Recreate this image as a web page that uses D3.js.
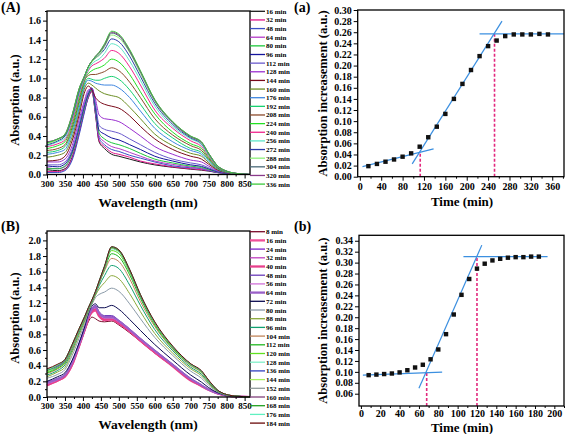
<!DOCTYPE html>
<html><head><meta charset="utf-8">
<script src="https://cdn.jsdelivr.net/npm/d3@7"></script>
<style>
body{margin:0;background:#fff}
svg{display:block}
text{font-family:"Liberation Serif","Times New Roman",serif;font-weight:bold;fill:#000}
</style>
</head><body>
<svg id="chart" width="567" height="434"></svg>
<script>
// ---------- DATA ----------
const wavelengths = [300,330,350,370,390,405,415,425,435,445,460,480,500,530,560,600,650,700,730,750,775,800,830,865];

const timesA = [16,32,48,64,80,96,112,128,144,160,176,192,208,224,240,256,272,288,304,320,336];
const colorsA = ['#1a1a1a','#e0158c','#3a4fc4','#b43cc8','#1ec83c','#14149c','#6a5acd','#9b30d0','#7a0a1a','#6b8e23','#3f86e0','#18d070','#8b4a2b','#22e022','#f0248c','#5ee6c8','#2a3aa8','#8ef07a','#4a6a78','#8a3a8a','#3cc83c'];
const spectraA = [
 [0.05,0.04,0.06,0.18,0.45,0.68,0.80,0.87,0.62,0.34,0.27,0.21,0.19,0.16,0.13,0.10,0.075,0.055,0.045,0.035,0.02,0.01,0.003,0],
 [0.03,0.03,0.05,0.17,0.44,0.67,0.80,0.86,0.63,0.35,0.29,0.23,0.21,0.18,0.14,0.11,0.08,0.06,0.05,0.04,0.02,0.01,0.003,0],
 [0.02,0.02,0.04,0.15,0.42,0.66,0.81,0.88,0.64,0.38,0.31,0.26,0.24,0.20,0.17,0.13,0.09,0.07,0.06,0.04,0.02,0.01,0.003,0],
 [0.07,0.06,0.08,0.21,0.48,0.70,0.82,0.89,0.66,0.40,0.34,0.29,0.27,0.23,0.19,0.14,0.105,0.077,0.063,0.047,0.024,0.012,0.003,0],
 [0.06,0.06,0.09,0.22,0.49,0.71,0.83,0.88,0.68,0.43,0.37,0.33,0.31,0.27,0.22,0.16,0.12,0.087,0.073,0.052,0.027,0.012,0.004,0],
 [0.09,0.08,0.11,0.24,0.51,0.73,0.84,0.90,0.70,0.46,0.42,0.38,0.36,0.31,0.26,0.19,0.14,0.10,0.084,0.06,0.029,0.013,0.004,0],
 [0.10,0.10,0.13,0.26,0.53,0.75,0.86,0.90,0.73,0.51,0.47,0.45,0.43,0.37,0.31,0.23,0.16,0.12,0.10,0.07,0.033,0.015,0.004,0],
 [0.13,0.13,0.16,0.30,0.58,0.78,0.88,0.89,0.78,0.62,0.58,0.57,0.55,0.48,0.40,0.29,0.21,0.15,0.13,0.087,0.04,0.017,0.005,0],
 [0.14,0.15,0.19,0.35,0.63,0.86,0.92,0.88,0.80,0.76,0.73,0.71,0.69,0.61,0.50,0.37,0.26,0.19,0.16,0.107,0.047,0.02,0.006,0],
 [0.18,0.20,0.23,0.39,0.67,0.90,0.95,0.93,0.90,0.87,0.84,0.82,0.80,0.70,0.58,0.42,0.30,0.22,0.19,0.123,0.053,0.022,0.006,0],
 [0.21,0.23,0.26,0.43,0.70,0.93,0.98,0.97,0.95,0.94,0.93,0.93,0.90,0.80,0.66,0.48,0.34,0.25,0.21,0.139,0.059,0.024,0.007,0],
 [0.23,0.25,0.29,0.46,0.74,0.95,1.00,0.99,0.98,0.98,1.00,1.02,0.99,0.88,0.73,0.53,0.38,0.27,0.23,0.152,0.064,0.026,0.007,0],
 [0.25,0.27,0.31,0.49,0.77,0.98,1.03,1.04,1.04,1.05,1.07,1.11,1.08,0.96,0.80,0.58,0.41,0.30,0.25,0.165,0.069,0.028,0.008,0],
 [0.27,0.30,0.34,0.52,0.80,0.99,1.05,1.08,1.10,1.11,1.14,1.20,1.17,1.04,0.86,0.63,0.44,0.32,0.27,0.178,0.074,0.029,0.008,0],
 [0.29,0.32,0.36,0.55,0.83,1.00,1.08,1.13,1.15,1.17,1.21,1.29,1.26,1.12,0.93,0.67,0.48,0.35,0.29,0.19,0.079,0.031,0.009,0],
 [0.30,0.34,0.38,0.58,0.85,1.01,1.09,1.15,1.18,1.20,1.26,1.36,1.33,1.18,0.98,0.71,0.50,0.37,0.31,0.20,0.083,0.032,0.009,0],
 [0.31,0.35,0.40,0.59,0.87,1.03,1.12,1.18,1.21,1.24,1.30,1.41,1.38,1.23,1.02,0.74,0.52,0.38,0.32,0.21,0.086,0.033,0.01,0],
 [0.32,0.36,0.41,0.61,0.89,1.02,1.11,1.17,1.21,1.24,1.33,1.45,1.42,1.27,1.05,0.76,0.535,0.39,0.33,0.214,0.088,0.034,0.01,0],
 [0.33,0.37,0.41,0.61,0.89,1.02,1.12,1.18,1.22,1.26,1.34,1.47,1.44,1.28,1.07,0.77,0.54,0.39,0.335,0.217,0.089,0.035,0.01,0],
 [0.34,0.37,0.42,0.62,0.90,1.03,1.12,1.18,1.23,1.27,1.35,1.48,1.45,1.29,1.07,0.775,0.546,0.397,0.338,0.219,0.09,0.035,0.01,0],
 [0.33,0.37,0.42,0.62,0.90,1.03,1.12,1.18,1.23,1.27,1.36,1.49,1.46,1.30,1.08,0.78,0.55,0.40,0.34,0.22,0.09,0.035,0.01,0]
];

const timesB = [8,16,24,32,40,48,56,64,72,80,88,96,104,112,120,128,136,144,152,160,168,176,184];
const colorsB = ['#7a0a2a','#f0509a','#7a20c8','#c040c0','#e8408c','#6a3ab8','#d070d8','#9a60c8','#0a0a50','#8a9aa8','#8aa83a','#10a070','#c0845a','#20b820','#60e020','#80f0c8','#3040c0','#a8f060','#909a9a','#80407a','#20a020','#60f0c0','#6a0a0a'];
const widthsB = [1,2,1,1,2,1,1,2,1,1,1,1,1,1,1,1,1,1,1,1,1,1,1];
const spectraB = [
 [0.17,0.22,0.27,0.42,0.65,0.84,0.96,1.02,1.00,0.97,0.96,0.97,0.92,0.82,0.71,0.56,0.39,0.21,0.14,0.09,0.045,0.02,0.005,0],
 [0.15,0.21,0.26,0.41,0.66,0.86,1.00,1.08,1.10,1.03,0.98,0.99,0.94,0.84,0.72,0.57,0.40,0.22,0.14,0.09,0.045,0.02,0.005,0],
 [0.18,0.23,0.28,0.44,0.68,0.88,1.03,1.13,1.16,1.07,1.03,1.03,0.97,0.86,0.74,0.59,0.41,0.23,0.15,0.095,0.047,0.02,0.005,0],
 [0.16,0.22,0.27,0.42,0.67,0.87,1.01,1.10,1.13,1.05,1.00,1.00,0.95,0.85,0.73,0.58,0.40,0.22,0.145,0.092,0.046,0.02,0.005,0],
 [0.15,0.21,0.26,0.41,0.66,0.86,1.00,1.09,1.12,1.04,0.99,0.99,0.94,0.84,0.72,0.57,0.39,0.21,0.14,0.09,0.045,0.02,0.005,0],
 [0.19,0.24,0.29,0.45,0.69,0.89,1.04,1.14,1.17,1.09,1.04,1.04,0.98,0.87,0.75,0.60,0.42,0.24,0.155,0.097,0.048,0.02,0.005,0],
 [0.17,0.22,0.28,0.43,0.67,0.88,1.02,1.11,1.14,1.06,1.01,1.01,0.96,0.85,0.73,0.58,0.41,0.23,0.15,0.093,0.046,0.02,0.005,0],
 [0.18,0.23,0.28,0.44,0.68,0.88,1.03,1.12,1.15,1.07,1.02,1.02,0.97,0.86,0.74,0.59,0.41,0.23,0.15,0.095,0.047,0.02,0.005,0],
 [0.20,0.26,0.31,0.47,0.70,0.90,1.06,1.16,1.19,1.14,1.14,1.17,1.12,0.99,0.85,0.67,0.47,0.28,0.19,0.12,0.055,0.022,0.006,0],
 [0.24,0.29,0.35,0.53,0.76,0.94,1.08,1.18,1.27,1.31,1.34,1.39,1.35,1.19,1.00,0.76,0.53,0.33,0.24,0.15,0.065,0.025,0.007,0],
 [0.26,0.32,0.38,0.57,0.80,0.97,1.10,1.20,1.30,1.38,1.46,1.55,1.51,1.32,1.09,0.81,0.56,0.36,0.27,0.17,0.07,0.027,0.008,0],
 [0.28,0.34,0.41,0.60,0.83,0.99,1.11,1.21,1.32,1.42,1.55,1.68,1.64,1.43,1.17,0.86,0.59,0.38,0.29,0.185,0.075,0.028,0.008,0],
 [0.30,0.36,0.43,0.62,0.85,1.00,1.12,1.22,1.33,1.45,1.61,1.77,1.73,1.51,1.22,0.90,0.61,0.40,0.31,0.195,0.08,0.029,0.009,0],
 [0.31,0.37,0.44,0.64,0.86,1.01,1.12,1.22,1.33,1.46,1.63,1.83,1.79,1.56,1.26,0.92,0.62,0.41,0.32,0.20,0.082,0.03,0.009,0],
 [0.32,0.38,0.45,0.65,0.86,1.01,1.13,1.23,1.34,1.46,1.65,1.87,1.83,1.59,1.28,0.93,0.63,0.41,0.32,0.205,0.083,0.03,0.01,0],
 [0.33,0.39,0.46,0.65,0.87,1.02,1.13,1.23,1.34,1.47,1.65,1.89,1.85,1.60,1.29,0.94,0.635,0.415,0.325,0.207,0.084,0.03,0.01,0],
 [0.34,0.39,0.46,0.66,0.87,1.02,1.13,1.23,1.34,1.47,1.66,1.90,1.86,1.61,1.29,0.945,0.637,0.417,0.327,0.208,0.084,0.03,0.01,0],
 [0.33,0.40,0.47,0.66,0.87,1.02,1.13,1.23,1.34,1.47,1.66,1.90,1.86,1.61,1.30,0.947,0.638,0.418,0.328,0.209,0.085,0.03,0.01,0],
 [0.34,0.40,0.47,0.66,0.87,1.02,1.13,1.23,1.34,1.47,1.66,1.91,1.87,1.62,1.30,0.948,0.639,0.419,0.329,0.209,0.085,0.03,0.01,0],
 [0.35,0.40,0.47,0.66,0.87,1.02,1.13,1.23,1.34,1.47,1.66,1.91,1.87,1.62,1.30,0.95,0.64,0.42,0.33,0.21,0.085,0.03,0.01,0],
 [0.34,0.41,0.48,0.67,0.88,1.03,1.14,1.24,1.35,1.48,1.67,1.91,1.87,1.62,1.30,0.95,0.64,0.42,0.33,0.21,0.085,0.03,0.01,0],
 [0.35,0.41,0.48,0.67,0.88,1.03,1.14,1.24,1.35,1.48,1.67,1.92,1.88,1.63,1.31,0.955,0.645,0.42,0.33,0.21,0.085,0.03,0.01,0],
 [0.36,0.42,0.48,0.67,0.88,1.03,1.14,1.24,1.35,1.48,1.67,1.92,1.88,1.63,1.31,0.96,0.65,0.425,0.335,0.215,0.087,0.031,0.01,0]
];

const kinTimeA = [16,32,48,64,80,96,112,128,144,160,176,192,208,224,240,256,272,288,304,320,336,352];
const kinValA  = [0.019,0.023,0.027,0.031,0.036,0.042,0.054,0.071,0.090,0.113,0.140,0.167,0.192,0.217,0.235,0.245,0.253,0.256,0.256,0.256,0.257,0.256];
const fitLinesA = [[[5,0.018],[138,0.050]], [[98,0.023],[266,0.280]], [[224,0.257],[382,0.257]]];
const dropLinesA = [[[113,0],[113,0.045]], [[252,0],[252,0.257]]];

const kinTimeB = [8,16,24,32,40,48,56,64,72,80,88,96,104,112,120,128,136,144,152,160,168,176,184];
const kinValB  = [0.094,0.095,0.096,0.097,0.099,0.103,0.108,0.113,0.123,0.141,0.169,0.205,0.241,0.270,0.289,0.298,0.304,0.307,0.309,0.310,0.310,0.311,0.311];
const fitLinesB = [[[2,0.094],[84,0.0995]], [[60,0.070],[125,0.332]], [[106,0.311],[193,0.311]]];
const dropLinesB = [[[68,0.0375],[68,0.098]], [[120,0.0375],[120,0.311]]];

// ---------- DRAWING ----------
const svg = d3.select('#chart');

function axes(g, x, y, o) {
  const [yb, yt] = y.range();
  const [xl, xr] = x.range();
  const ax = (gen) => g.append('g').call(gen).call(s => s.select('.domain').remove())
     .attr('font-family', '"Liberation Serif","Times New Roman",serif').attr('font-weight','bold');
  ax(d3.axisBottom(x).tickValues(o.xMinor).tickSize(2).tickFormat('')).attr('transform', `translate(0,${yb})`);
  ax(d3.axisBottom(x).tickValues(o.xMajor).tickSize(o.xTick || 4).tickPadding(o.xPad || 2).tickFormat(o.xFmt))
     .attr('transform', `translate(0,${yb})`).attr('font-size', o.xFs);
  ax(d3.axisLeft(y).tickValues(o.yMinor).tickSize(2).tickFormat('')).attr('transform', `translate(${xl},0)`);
  ax(d3.axisLeft(y).tickValues(o.yMajor).tickSize(4).tickPadding(2).tickFormat(o.yFmt))
     .attr('transform', `translate(${xl},0)`).attr('font-size', o.yFs);
  g.selectAll('.tick line').attr('stroke', '#000').attr('stroke-width', 1);
  g.selectAll('.tick text').attr('fill', '#000');
  g.append('rect').attr('x', xl).attr('y', yt).attr('width', xr - xl).attr('height', yb - yt)
    .attr('fill', 'none').attr('stroke', '#000').attr('stroke-width', 1.3);
}

function spectraPanel(o) {
  const g = svg.append('g');
  const x = d3.scaleLinear().domain([300, 865]).range([47, 250]);
  const y = d3.scaleLinear().domain([0, o.ymax]).range([o.bottom, o.top]);
  const line = d3.line().x((d, i) => x(wavelengths[i])).y(d => y(d)).curve(d3.curveMonotoneX);
  o.data.forEach((s, i) => {
    g.append('path').attr('d', line(s)).attr('fill', 'none')
      .attr('stroke', o.colors[i]).attr('stroke-width', o.widths ? o.widths[i] : 1);
  });
  axes(g, x, y, {
    xMajor: d3.range(300, 851, 50), xMinor: d3.range(325, 866, 50), xFmt: d3.format('d'), xFs: 9,
    yMajor: o.yMajor, yMinor: o.yMinor, yFmt: d3.format('.1f'), yFs: 10
  });
  // legend
  o.times.forEach((t, i) => {
    const ly = o.legTop + i * o.legStep;
    g.append('line').attr('x1', 250).attr('x2', 265).attr('y1', ly).attr('y2', ly)
      .attr('stroke', o.colors[i]).attr('stroke-width', o.widths ? o.widths[i] + 0.3 : 1.3);
    g.append('text').attr('x', 266).attr('y', ly + 2.5).attr('font-size', 7).text(`${t} min`);
  });
  g.append('text').attr('x', 148).attr('y', o.bottom + 32).attr('text-anchor', 'middle')
    .attr('font-size', 13.5).text('Wavelength (nm)');
  g.append('text').attr('transform', `translate(19,${o.ylabY}) rotate(-90)`).attr('text-anchor', 'middle')
    .attr('font-size', 12.5).text('Absorption (a.u.)');
  g.append('text').attr('x', 1).attr('y', o.labY).attr('font-size', 14).text(o.label);
}

function kineticPanel(o) {
  const g = svg.append('g');
  const x = d3.scaleLinear().domain(o.xdom).range([o.left, 564]);
  const y = d3.scaleLinear().domain(o.ydom).range([o.bottom, o.top]);
  const lg = d3.line().x(d => x(d[0])).y(d => y(d[1]));
  o.drops.forEach(d => g.append('path').attr('d', lg(d)).attr('stroke', '#e2287e')
    .attr('stroke-width', 1.6).attr('stroke-dasharray', '3,2').attr('fill', 'none'));
  o.fits.forEach(d => g.append('path').attr('d', lg(d)).attr('stroke', '#3b8fe0')
    .attr('stroke-width', 1.2).attr('fill', 'none'));
  g.selectAll('rect.pt').data(o.t).join('rect').attr('class', 'pt')
    .attr('x', (d) => x(d) - 2.2).attr('y', (d, i) => y(o.v[i]) - 2.2)
    .attr('width', 4.4).attr('height', 4.4).attr('fill', '#111');
  axes(g, x, y, {
    xMajor: o.xMajor, xMinor: o.xMinor, xFmt: d3.format('d'), xFs: 10, xTick: o.xTick, xPad: o.xPad,
    yMajor: o.yMajor, yMinor: [], yFmt: d3.format('.2f'), yFs: 10
  });
  g.append('text').attr('x', 462).attr('y', o.timeY).attr('text-anchor', 'middle')
    .attr('font-size', 13).text('Time (min)');
  g.append('text').attr('transform', `translate(327,${(o.top + o.bottom) / 2}) rotate(-90)`).attr('text-anchor', 'middle')
    .attr('font-size', 12.6).text('Absorption increasement (a.u.)');
  g.append('text').attr('x', 294).attr('y', o.labY).attr('font-size', 14).text(o.label);
}

spectraPanel({data: spectraA, colors: colorsA, times: timesA, ymax: 1.7, bottom: 174.5, top: 11,
  yMajor: d3.range(0, 1.61, 0.2), yMinor: d3.range(0.1, 1.71, 0.2),
  legTop: 11.3, legStep: 8.64, ylabY: 100, labY: 12, label: '(A)'});
spectraPanel({data: spectraB, colors: colorsB, widths: widthsB, times: timesB, ymax: 2.12, bottom: 397, top: 231,
  yMajor: d3.range(0, 2.01, 0.2), yMinor: d3.range(0.1, 2.11, 0.2),
  legTop: 231.7, legStep: 8.7, ylabY: 318, labY: 231, label: '(B)'});

kineticPanel({t: kinTimeA, v: kinValA, fits: fitLinesA, drops: dropLinesA,
  xdom: [-4, 382], ydom: [0, 0.30], left: 357.7, bottom: 176.7, top: 10,
  xMajor: d3.range(0, 361, 40), xMinor: d3.range(20, 381, 40),
  yMajor: d3.range(0, 0.301, 0.02), labY: 12, label: '(a)', timeY: 206});
kineticPanel({t: kinTimeB, v: kinValB, fits: fitLinesB, drops: dropLinesB,
  xdom: [-2, 210], ydom: [0.0375, 0.35], left: 359, bottom: 406, top: 235.3,
  xMajor: d3.range(0, 201, 20), xMinor: d3.range(10, 211, 20), xTick: 3, xPad: 1,
  yMajor: d3.range(0.06, 0.341, 0.02), labY: 231, label: '(b)', timeY: 431.5});
</script>
</body></html>
